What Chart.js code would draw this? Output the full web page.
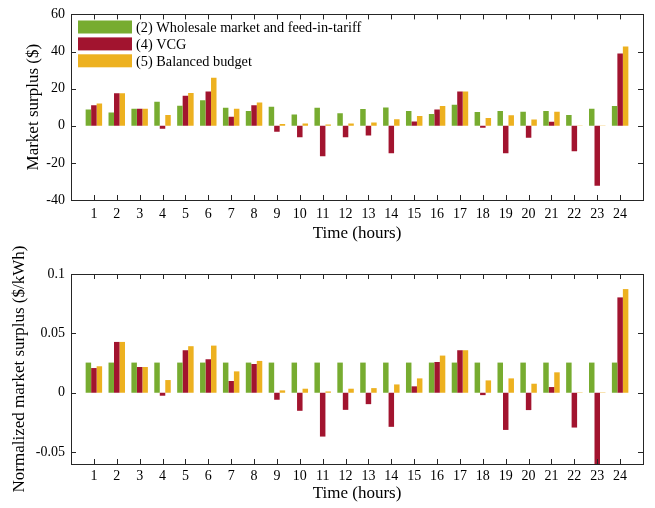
<!DOCTYPE html>
<html><head><meta charset="utf-8">
<script src="https://cdn.jsdelivr.net/npm/chart.js@4/dist/chart.umd.min.js"></script>
<style>
body{margin:0;background:#fff}
#wrap{position:relative;width:655px;height:508px;background:#fff}
canvas{position:absolute;left:0}
</style></head><body>
<div id="wrap">
<canvas id="c1" width="655" height="254" style="top:0"></canvas>
<canvas id="c2" width="655" height="278" style="top:230px"></canvas>
</div>
<script>
// ---- data ----
const hours = ['1','2','3','4','5','6','7','8','9','10','11','12','13','14','15','16','17','18','19','20','21','22','23','24'];
const seriesNames = ['(2) Wholesale market and feed-in-tariff', '(4) VCG', '(5) Balanced budget'];
const seriesColors = ['#77AC30', '#A2142F', '#EDB120'];

// Top panel: market surplus ($)
const surplusWholesale = [8.8, 7.1, 9.2, 12.9, 10.8, 13.8, 9.7, 7.9, 10.2, 6.0, 9.7, 6.7, 9.0, 9.9, 7.9, 6.3, 11.3, 7.4, 7.9, 7.6, 7.9, 5.8, 9.2, 10.6];
const surplusVCG       = [11.1, 17.5, 9.2, -1.6, 16.2, 18.5, 4.9, 11.1, -3.2, -6.2, -16.4, -6.2, -5.3, -14.8, 2.3, 8.8, 18.5, -1.1, -14.8, -6.5, 2.1, -13.8, -32.3, 39.0];
const surplusBalanced  = [12.0, 17.5, 9.2, 5.8, 17.6, 25.9, 9.2, 12.5, 0.9, 1.2, 0.7, 1.2, 1.8, 3.5, 5.3, 10.6, 18.5, 4.2, 5.6, 3.4, 7.6, 0.2, 0.2, 42.7];
const topTicks = [-40, -20, 0, 20, 40, 60];

// Bottom panel: normalized market surplus ($/kWh)
const normWholesale = [0.0254, 0.0254, 0.0254, 0.0254, 0.0254, 0.0254, 0.0254, 0.0254, 0.0254, 0.0254, 0.0254, 0.0254, 0.0254, 0.0254, 0.0254, 0.0254, 0.0254, 0.0254, 0.0254, 0.0254, 0.0254, 0.0254, 0.0254, 0.0254];
const normVCG       = [0.0208, 0.0428, 0.0217, -0.0025, 0.0358, 0.0282, 0.0099, 0.0242, -0.0059, -0.0152, -0.0369, -0.0144, -0.0096, -0.0287, 0.0054, 0.0259, 0.0358, -0.0020, -0.0313, -0.0146, 0.0048, -0.0293, -0.0727, 0.0803];
const normBalanced  = [0.0223, 0.0428, 0.0217, 0.0107, 0.0392, 0.0397, 0.0180, 0.0268, 0.0020, 0.0034, 0.0011, 0.0034, 0.0039, 0.0070, 0.0121, 0.0313, 0.0358, 0.0104, 0.0121, 0.0076, 0.0172, 0.0003, 0.0003, 0.0873];
const bottomTicks = [-0.05, 0, 0.05, 0.1];

// ---- helpers ----
const FONT = "'Liberation Serif', 'Times New Roman', serif";
const AXC = '#262626';
const pad = arr => [null, ...arr, null];
const paddedLabels = ['', ...hours, ''];

function makeDatasets(a, b, c) {
  return [a, b, c].map((d, i) => ({
    label: seriesNames[i], data: pad(d), backgroundColor: seriesColors[i],
    borderWidth: 0, categoryPercentage: 0.72, barPercentage: 1.0
  }));
}

const framePlugin = {
  id: 'frame',
  afterDraw(chart, args, opts) {
    const {ctx, chartArea: a, scales: {x, y}} = chart;
    ctx.save();
    ctx.strokeStyle = AXC;
    ctx.lineWidth = 1;
    const tl = 5;
    ctx.beginPath();
    for (let i = 1; i <= hours.length; i++) {
      const px = Math.round(x.getPixelForValue(i)) + 0.5;
      ctx.moveTo(px, a.bottom); ctx.lineTo(px, a.bottom - tl);
      ctx.moveTo(px, a.top); ctx.lineTo(px, a.top + tl);
    }
    y.ticks.forEach(t => {
      const py = Math.round(y.getPixelForValue(t.value)) + 0.5;
      ctx.moveTo(a.left, py); ctx.lineTo(a.left + tl, py);
      ctx.moveTo(a.right, py); ctx.lineTo(a.right - tl, py);
    });
    ctx.stroke();
    ctx.strokeRect(Math.round(a.left) + 0.5, Math.round(a.top) + 0.5, Math.round(a.right - a.left), Math.round(a.bottom - a.top));
    if (opts.legend) {
      ctx.font = '14.3px ' + FONT;
      ctx.textBaseline = 'middle';
      ctx.textAlign = 'left';
      chart.data.datasets.forEach((ds, i) => {
        const cy = 27 + i * 16.9;
        ctx.fillStyle = ds.backgroundColor;
        ctx.fillRect(78, cy - 6.5, 54, 13);
        ctx.fillStyle = '#000';
        ctx.fillText(ds.label, 136, cy + 1);
      });
    }
    ctx.restore();
  }
};

function makeChart(id, datasets, yMin, yMax, ticks, yTitle, cfg) {
  return new Chart(document.getElementById(id), {
    type: 'bar',
    data: {labels: paddedLabels, datasets},
    plugins: [framePlugin],
    options: {
      responsive: false, animation: false,
      layout: {padding: {top: cfg.top, right: 12, left: 0, bottom: 0}},
      plugins: {legend: {display: false}, tooltip: {enabled: false}, frame: {legend: cfg.legend}},
      scales: {
        x: {
          offset: false,
          grid: {display: false, drawTicks: false}, border: {display: false},
          ticks: {autoSkip: false, maxRotation: 0, padding: cfg.xTickPad, color: '#000', font: {family: FONT, size: 14}},
          title: {display: true, text: 'Time (hours)', color: '#000', font: {family: FONT, size: 17}, padding: {top: 0, bottom: cfg.xTitlePad}},
          afterFit: s => { s.height = cfg.xHeight; }
        },
        y: {
          min: yMin, max: yMax,
          grid: {display: false, drawTicks: false}, border: {display: false},
          afterBuildTicks: s => { s.ticks = ticks.map(v => ({value: v})); },
          ticks: {padding: 6, color: '#000', font: {family: FONT, size: 14},
                  callback: v => String(+Number(v).toFixed(3))},
          title: {display: true, text: yTitle, color: '#000', font: {family: FONT, size: 17}, padding: {top: cfg.yTitlePad, bottom: 0}},
          afterFit: s => { s.width = 71; }
        }
      }
    }
  });
}

makeChart('c1', makeDatasets(surplusWholesale, surplusVCG, surplusBalanced), -40, 60, topTicks,
  'Market surplus ($)', {top: 11, xHeight: 54, xTickPad: 6, xTitlePad: 10, yTitlePad: 23, legend: true});
makeChart('c2', makeDatasets(normWholesale, normVCG, normBalanced), -0.06, 0.1, bottomTicks,
  'Normalized market surplus ($/kWh)', {top: 44, xHeight: 44, xTickPad: 4, xTitlePad: 4, yTitlePad: 9, legend: false});
</script>
</body></html>
